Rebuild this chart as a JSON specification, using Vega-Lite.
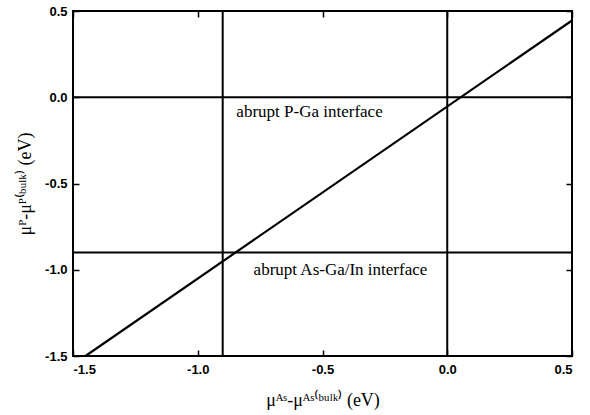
{
  "$schema": "https://vega.github.io/schema/vega-lite/v6.json",
  "width": 499,
  "height": 345,
  "autosize": "none",
  "padding": {"left": 73, "top": 11, "right": 18, "bottom": 59},
  "config": {
    "view": {"stroke": "#000", "strokeWidth": 2},
    "axis": {"domain": false, "grid": false}
  },
  "datasets": {
    "vlines": [{"x": -0.9}, {"x": 0.0}],
    "hlines": [{"y": 0.0}, {"y": -0.9}],
    "diag": [{"x": -1.45, "y": -1.5}, {"x": 0.5, "y": 0.445}],
    "labels": [
      {"x": -0.552, "y": -0.086, "label": "abrupt P-Ga interface"},
      {"x": -0.428, "y": -1.001, "label": "abrupt As-Ga/In interface"}
    ]
  },
  "resolve": {"axis": {"x": "independent", "y": "independent"}},
  "layer": [
    {
      "data": {"name": "vlines"},
      "mark": {"type": "rule", "color": "#000", "strokeWidth": 2},
      "encoding": {
        "x": {
          "field": "x", "type": "quantitative",
          "scale": {"domain": [-1.5, 0.5], "nice": false, "zero": false},
          "axis": {
            "orient": "bottom",
            "values": [-1.5, -1.0, -0.5, 0.0, 0.5],
            "labelExpr": "replace(format(datum.value, '.1f'), '\u2212', '-')",
            "tickSize": -6, "tickWidth": 1.5, "tickColor": "#000",
            "labelPadding": 13, "labelFont": "Liberation Sans", "labelFontSize": 13, "labelFontWeight": "bold", "labelColor": "#000",
            "title": "μᴬˢ-μᴬˢ⁽ᵇᵘˡᵏ⁾ (eV)",
            "titleFont": "Liberation Serif", "titleFontSize": 18, "titleFontWeight": "normal", "titleColor": "#000",
            "titlePadding": 15
          }
        }
      }
    },
    {
      "data": {"name": "vlines"},
      "mark": {"type": "rule", "opacity": 0},
      "encoding": {
        "x": {
          "field": "x", "type": "quantitative",
          "scale": {"domain": [-1.5, 0.5], "nice": false, "zero": false},
          "axis": {
            "orient": "top",
            "values": [-1.5, -1.0, -0.5, 0.0, 0.5],
            "tickSize": -6, "tickWidth": 1.5, "tickColor": "#000",
            "labels": false, "title": null
          }
        }
      }
    },
    {
      "data": {"name": "hlines"},
      "mark": {"type": "rule", "color": "#000", "strokeWidth": 2},
      "encoding": {
        "y": {
          "field": "y", "type": "quantitative",
          "scale": {"domain": [-1.5, 0.5], "nice": false, "zero": false},
          "axis": {
            "orient": "left",
            "values": [-1.5, -1.0, -0.5, 0.0, 0.5],
            "labelExpr": "replace(format(datum.value, '.1f'), '\u2212', '-')",
            "tickSize": -6, "tickWidth": 1.5, "tickColor": "#000",
            "labelPadding": 12, "labelFont": "Liberation Sans", "labelFontSize": 13, "labelFontWeight": "bold", "labelColor": "#000",
            "title": "μᴾ-μᴾ⁽ᵇᵘˡᵏ⁾ (eV)",
            "titleFont": "Liberation Serif", "titleFontSize": 18, "titleFontWeight": "normal", "titleColor": "#000",
            "titlePadding": 10
          }
        }
      }
    },
    {
      "data": {"name": "hlines"},
      "mark": {"type": "rule", "opacity": 0},
      "encoding": {
        "y": {
          "field": "y", "type": "quantitative",
          "scale": {"domain": [-1.5, 0.5], "nice": false, "zero": false},
          "axis": {
            "orient": "right",
            "values": [-1.5, -1.0, -0.5, 0.0, 0.5],
            "tickSize": -6, "tickWidth": 1.5, "tickColor": "#000",
            "labels": false, "title": null
          }
        }
      }
    },
    {
      "data": {"name": "diag"},
      "mark": {"type": "line", "color": "#000", "strokeWidth": 2.2},
      "encoding": {
        "x": {"field": "x", "type": "quantitative", "axis": null},
        "y": {"field": "y", "type": "quantitative", "axis": null}
      }
    },
    {
      "data": {"name": "labels"},
      "mark": {"type": "text", "font": "Liberation Serif", "fontSize": 17, "color": "#000", "align": "center", "baseline": "middle"},
      "encoding": {
        "x": {"field": "x", "type": "quantitative", "axis": null},
        "y": {"field": "y", "type": "quantitative", "axis": null},
        "text": {"field": "label"}
      }
    }
  ]
}
